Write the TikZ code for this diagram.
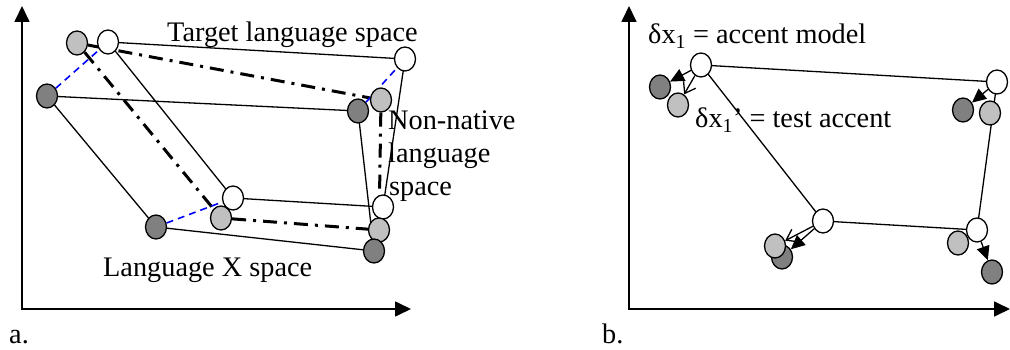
\documentclass[tikz,border=0pt]{standalone}
\usepackage{fontspec}
\setmainfont{Liberation Serif}
\usetikzlibrary{shapes.geometric,arrows.meta,backgrounds}
\begin{document}
\begin{tikzpicture}[x=1pt,y=-1pt,
  dot/.style={ellipse,draw=black,line width=1.3pt,minimum width=21pt,minimum height=24pt,inner sep=0pt},
  wdot/.style={dot,fill=white},
  ldot/.style={dot,fill=lgray},
  ddot/.style={dot,fill=dgray},
  edge/.style={line width=1.3pt,black},
  dashdot/.style={line width=3pt,black,dash pattern=on 14pt off 7pt on 3pt off 7pt},
  bluedash/.style={line width=1.6pt,blue,dash pattern=on 7pt off 5pt},
  axis/.style={line width=1.7pt,black,{Triangle[length=16pt,width=15pt]}-{Triangle[length=16pt,width=15pt]}},
  fillarrow/.style={line width=1.3pt,-{Triangle[length=14pt,width=13pt]}},
  openarrow/.style={line width=1.3pt,-{Straight Barb[length=10pt,width=14pt]}},
  lbl/.style={inner sep=0pt,anchor=base west,font=\fontsize{28.3}{33}\selectfont}
]
\definecolor{lgray}{RGB}{192,192,192}
\definecolor{dgray}{RGB}{128,128,128}
\useasboundingbox (0,0) rectangle (1010,350);

% ---------- panel a ----------
\coordinate (ayt) at (22,6);
\coordinate (ao) at (22,309);
\coordinate (axt) at (411,309);
\draw[axis] (ayt) -- (ao) -- (axt);

\node[ddot] (ad1) at (47,96) {};
\node[ddot] (ad4) at (156,227) {};
\node[ldot] (al1) at (77,43) {};
\node[wdot] (aw1) at (108,42) {};
\node[wdot] (aw2) at (405,59) {};
\node[wdot] (aw4) at (233,198) {};
\node[ldot] (al4) at (221,218) {};
\node[ldot] (al2) at (381,100) {};
\node[ddot] (ad2) at (358,111) {};
\node[wdot] (aw3) at (383,207) {};
\node[ldot] (al3) at (379,230) {};
\node[ddot] (ad3) at (374,251) {};

\begin{scope}[on background layer]
  \draw[edge] (aw1.center) -- (aw2.center) -- (aw3.center) -- (aw4.center) -- cycle;
  \draw[edge] (ad1.center) -- (ad2.center) -- (ad3.center) -- (ad4.center) -- cycle;
  \draw[dashdot] (al1) -- (al2);
  \draw[dashdot] (al1) -- (al4);
  \draw[dashdot] (al4) -- (al3);
  \draw[dashdot] (al2) -- (al3);
  \draw[bluedash] (ad1) -- (aw1);
  \draw[bluedash] (ad4) -- (aw4);
  \draw[bluedash] (ad2) -- (aw2);
\end{scope}

\node[lbl] (tls) at (167,42) {Target language space};
\node[lbl] (nn1) at (388,130) {Non-native};
\node[lbl] (nn2) at (388,163) {language};
\node[lbl] (nn3) at (389,196) {space};
\node[lbl] (lxs) at (103,276) {Language X space};
\node[lbl] (la) at (9,343) {a.};

% ---------- panel b ----------
\coordinate (byt) at (629,6);
\coordinate (bo) at (629,309);
\coordinate (bxt) at (1010,309);
\draw[axis] (byt) -- (bo) -- (bxt);

\node[ddot] (bd1) at (660,87) {};
\node[ldot] (bl1) at (678,105) {};
\node[wdot] (bw1) at (701,65) {};
\node[ddot] (bd2) at (963,110) {};
\node[ldot] (bl2) at (990,113) {};
\node[wdot] (bw2) at (997,82) {};
\node[ldot] (bl3) at (958,243) {};
\node[ddot] (bd3) at (992,272) {};
\node[wdot] (bw3) at (977,230) {};
\node[ddot] (bd4) at (782,257) {};
\node[ldot] (bl4) at (775,246) {};
\node[wdot] (bw4) at (823,221) {};

\begin{scope}[on background layer]
  \draw[edge] (bw1.center) -- (bw2.center) -- (bw3.center) -- (bw4.center) -- cycle;
\end{scope}

\draw[fillarrow] (bw1) -- (bd1);
\draw[openarrow] (bw1) -- (bl1);
\draw[fillarrow] (bw2) -- (bd2);
\draw[fillarrow] (bw3) -- (bd3);
\draw[openarrow] (bw4) -- (bl4);
\draw[fillarrow] (bw4) -- (bd4);

\node[lbl] (am) at (648,44) {δx\textsubscript{1} = accent model};
\node[lbl] (ta) at (695,128) {δx\textsubscript{1}’ = test accent};
\node[lbl] (lb) at (602,343) {b.};
\end{tikzpicture}
\end{document}
